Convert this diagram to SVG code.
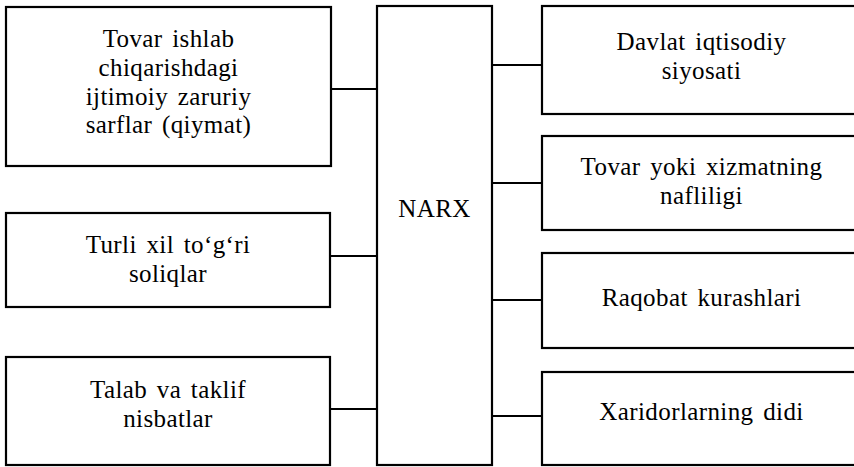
<svg xmlns="http://www.w3.org/2000/svg" width="854" height="467" viewBox="0 0 854 467">
<style>
.box{fill:#fff;stroke:#000;stroke-width:2.2}
.con{stroke:#000;stroke-width:1.8;fill:none}
.t{font-size:25px;fill:#000;text-anchor:middle;letter-spacing:0.4px;word-spacing:3px}
</style>
<rect width="854" height="467" fill="#fff"/>
<g id="connectors">
<line class="con" x1="331" y1="89" x2="377" y2="89"/>
<line class="con" x1="330" y1="256" x2="377" y2="256"/>
<line class="con" x1="330" y1="409" x2="377" y2="409"/>
<line class="con" x1="492" y1="65" x2="542" y2="65"/>
<line class="con" x1="492" y1="183" x2="542" y2="183"/>
<line class="con" x1="492" y1="300" x2="542" y2="300"/>
<line class="con" x1="492" y1="416" x2="542" y2="416"/>
</g>
<g class="t" font-family="'Liberation Serif', 'DejaVu Serif', serif">
<g id="l1">
<rect class="box" x="6" y="7" width="325" height="159"/>
<text x="168.5" y="47">Tovar ishlab</text>
<text x="168.5" y="76">chiqarishdagi</text>
<text x="168.5" y="104.5">ijtimoiy zaruriy</text>
<text x="168.5" y="133">sarflar (qiymat)</text>
</g>
<g id="l2">
<rect class="box" x="6" y="213" width="324" height="94"/>
<text x="168" y="253">Turli xil to‘g‘ri</text>
<text x="168" y="281.5">soliqlar</text>
</g>
<g id="l3">
<rect class="box" x="6" y="357" width="324" height="108"/>
<text x="168" y="398">Talab va taklif</text>
<text x="168" y="426.5">nisbatlar</text>
</g>
<g id="narx">
<rect class="box" x="377" y="6" width="115" height="459"/>
<text x="434.5" y="216.5">NARX</text>
</g>
<g id="r1">
<rect class="box" x="542" y="6" width="320" height="108"/>
<text x="701.5" y="50">Davlat iqtisodiy</text>
<text x="701.5" y="78.5">siyosati</text>
</g>
<g id="r2">
<rect class="box" x="542" y="136" width="320" height="94"/>
<text x="701.5" y="175">Tovar yoki xizmatning</text>
<text x="701.5" y="204">nafliligi</text>
</g>
<g id="r3">
<rect class="box" x="542" y="253" width="320" height="95"/>
<text x="701.5" y="306">Raqobat kurashlari</text>
</g>
<g id="r4">
<rect class="box" x="542" y="372" width="320" height="93"/>
<text x="701.5" y="420">Xaridorlarning didi</text>
</g>
</g>
</svg>
